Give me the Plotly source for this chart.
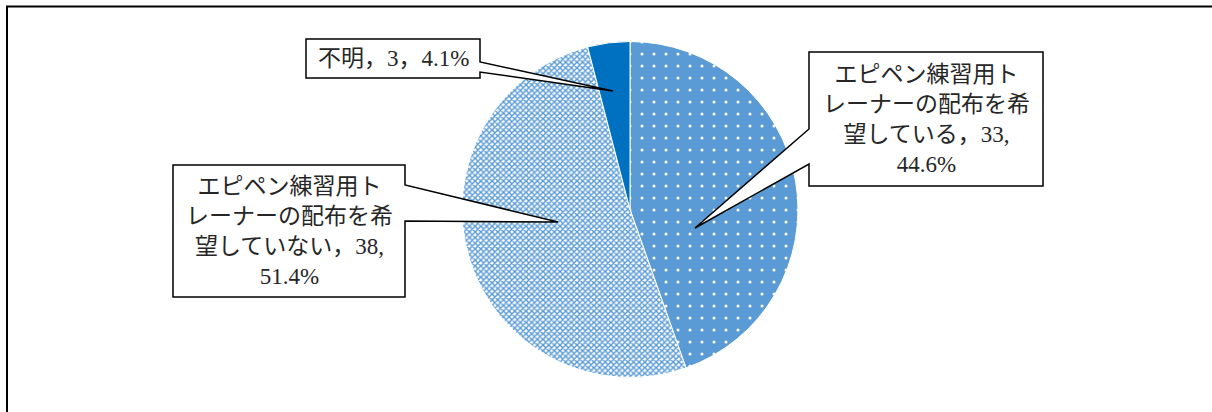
import plotly.graph_objects as go

# ---- data ----
categories = ["エピペン練習用トレーナーの配布を希望している",
              "エピペン練習用トレーナーの配布を希望していない",
              "不明"]
counts = [33, 38, 3]
percent_labels = ["44.6%", "51.4%", "4.1%"]
label_texts = ["エピペン練習用ト<br>レーナーの配布を希<br>望している，33,<br>44.6%",
               "エピペン練習用ト<br>レーナーの配布を希<br>望していない，38,<br>51.4%",
               "不明，3，4.1%"]

# ---- styling / layout ----
W, H = 1212, 412
slice_colors = ["#5B9BD5", "#A6C8EA", "#0070C0"]
pat_shapes = [".", "x", ""]
pat_bg = ["#5B9BD5", "#FFFFFF", "#0070C0"]
pat_fg = ["#FFFFFF", "#5B9BD5", "#0070C0"]
pat_size = [12, 4, 8]
pat_solid = [0.05, 0.6, 0.5]

cx, cy, R = 630, 209.5, 168  # pie centre / radius in pixels


def px(x):
    return x / W


def py(y):
    return 1 - y / H


FONT = dict(family="Liberation Serif, 'Noto Sans CJK JP', serif", size=23, color="#262626")

fig = go.Figure()
fig.add_trace(go.Pie(
    labels=categories,
    values=counts,
    sort=False,
    direction="clockwise",
    rotation=0,
    textinfo="none",
    hoverinfo="label+value+percent",
    showlegend=False,
    domain=dict(x=[px(cx - R), px(cx + R)], y=[py(cy + R), py(cy - R)]),
    marker=dict(
        colors=slice_colors,
        line=dict(color="#FFFFFF", width=1),
        pattern=dict(shape=pat_shapes, bgcolor=pat_bg, fgcolor=pat_fg,
                     size=pat_size, solidity=pat_solid, fillmode="replace"),
    ),
))

# callout boxes: (x0, x1, y0, y1, side, wedge_y0, wedge_y1, tip_dx, tip_dy)
callouts = [
    (809, 1043, 52, 186, "left", 129, 164, 65, 18.5),
    (173, 405, 165, 297, "right", 185, 221, -72, 12.5),
    (306, 480, 39, 78, "right", 62, 72, -17, -118.5),
]

shapes = []
annotations = []
for (x0, x1, y0, y1, side, wy0, wy1, tdx, tdy), txt in zip(callouts, label_texts):
    tx, ty = cx + tdx, cy + tdy
    if side == "left":
        pts = [(x0, y0), (x1, y0), (x1, y1), (x0, y1), (x0, wy1), (tx, ty), (x0, wy0)]
    else:
        pts = [(x0, y0), (x1, y0), (x1, wy0), (tx, ty), (x1, wy1), (x1, y1), (x0, y1)]
    path = "M " + " L ".join(f"{px(a):.5f},{py(b):.5f}" for a, b in pts) + " Z"
    shapes.append(dict(type="path", xref="paper", yref="paper", path=path,
                       fillcolor="#FFFFFF", line=dict(color="#000000", width=1.5),
                       layer="above"))
    annotations.append(dict(text=txt, x=px((x0 + x1) / 2), y=py((y0 + y1) / 2),
                            xref="paper", yref="paper", xanchor="center", yanchor="middle",
                            showarrow=False, align="center", font=FONT))

# outer chart border (extends beyond the visible area on right/bottom)
shapes.append(dict(type="rect", xref="paper", yref="paper",
                   x0=px(7), x1=px(1260), y0=py(6.5), y1=py(460),
                   line=dict(color="#000000", width=2), fillcolor="rgba(0,0,0,0)",
                   layer="above"))

fig.update_layout(
    width=W, height=H,
    margin=dict(l=0, r=0, t=0, b=0),
    paper_bgcolor="#FFFFFF",
    plot_bgcolor="#FFFFFF",
    shapes=shapes,
    annotations=annotations,
)

fig.write_html("out.html", config={"displayModeBar": False},
               post_script="document.body.style.margin='0';document.body.style.overflow='hidden';")
